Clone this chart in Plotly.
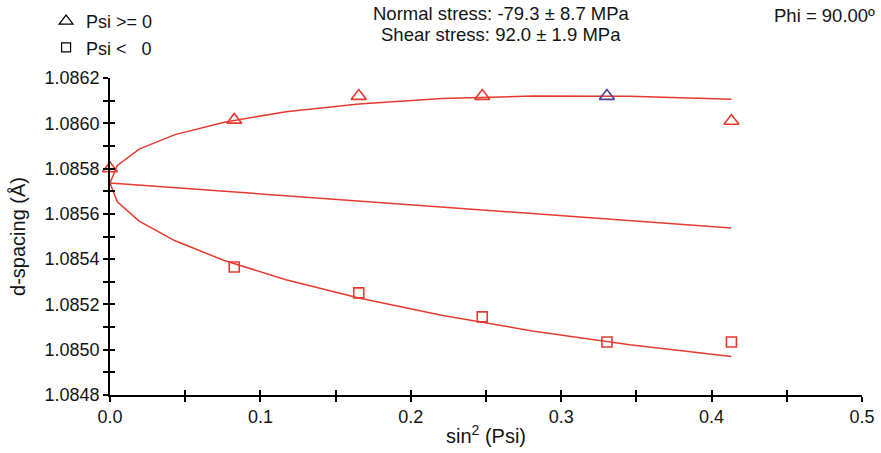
import plotly.graph_objects as go

# Measured points
psi_pos_x = [0.0, 0.0826, 0.1654, 0.2475, 0.3304, 0.4132]
psi_pos_y = [1.0858, 1.086015, 1.08612, 1.08612, 1.08612, 1.08601]
psi_pos_colors = ["#e53b2f", "#e53b2f", "#e53b2f", "#e53b2f", "#4b3f95", "#e53b2f"]

psi_neg_x = [0.0826, 0.1654, 0.2475, 0.3304, 0.4132]
psi_neg_y = [1.085365, 1.085251, 1.085145, 1.085034, 1.085034]

# Fit curves (vertices)
fit_x = [0.0, 0.00487, 0.01937, 0.04323, 0.07598, 0.11698, 0.16543, 0.22040, 0.28081, 0.34549, 0.41318]
fit_upper = [1.085736, 1.085814, 1.085886, 1.085950, 1.086005, 1.086051, 1.086085, 1.086109, 1.086120, 1.086119, 1.086106]
fit_lower = [1.085736, 1.085653, 1.085568, 1.085481, 1.085394, 1.085309, 1.085228, 1.085152, 1.085083, 1.085022, 1.084970]
center_x = [0.0, 0.41318]
center_y = [1.085736, 1.085538]

RED = "#e53b2f"
FONT = "Liberation Sans, Arial, Helvetica, sans-serif"
TXT = "#141414"

fig = go.Figure()
line_style = dict(color=RED, width=1.5)
fig.add_trace(go.Scatter(x=fit_x, y=fit_upper, mode="lines", line=line_style, showlegend=False))
fig.add_trace(go.Scatter(x=fit_x, y=fit_lower, mode="lines", line=line_style, showlegend=False))
fig.add_trace(go.Scatter(x=center_x, y=center_y, mode="lines", line=line_style, showlegend=False))

fig.add_trace(go.Scatter(x=psi_pos_x, y=psi_pos_y, mode="markers", showlegend=False, cliponaxis=False,
                         marker=dict(symbol="triangle-up-open", size=13, color=psi_pos_colors,
                                     line=dict(width=1.6, color=psi_pos_colors))))
fig.add_trace(go.Scatter(x=psi_neg_x, y=psi_neg_y, mode="markers", showlegend=False, cliponaxis=False,
                         marker=dict(symbol="square-open", size=10, color=RED,
                                     line=dict(width=1.6, color=RED))))

# legend entries (black outline symbols)
fig.add_trace(go.Scatter(x=[None], y=[None], mode="markers", name="Psi &gt;= 0",
                         marker=dict(symbol="triangle-up-open", size=12, color="black",
                                     line=dict(width=1.2, color="black"))))
fig.add_trace(go.Scatter(x=[None], y=[None], mode="markers", name="Psi &lt;&nbsp;&nbsp; 0",
                         marker=dict(symbol="square-open", size=9, color="black",
                                     line=dict(width=1.2, color="black"))))

# overlay axes for ticks crossing the axis line
fig.add_trace(go.Scatter(x=[None], y=[None], xaxis="x2", yaxis="y2", showlegend=False))

tick_common = dict(showgrid=False, zeroline=False, tickcolor="black", tickwidth=1.5, ticklen=5)

fig.update_layout(
    width=881, height=453,
    margin=dict(l=110, r=19, t=78, b=58, autoexpand=False),
    plot_bgcolor="white", paper_bgcolor="white",
    font=dict(family=FONT, size=18, color=TXT),
    xaxis=dict(range=[0, 0.5], dtick=0.1, tick0=0, tickformat=".1f", ticks="outside",
               showline=True, linecolor="black", linewidth=1.5, automargin=False,
               tickfont=dict(size=18),
               minor=dict(dtick=0.05, ticks="outside", ticklen=5, tickcolor="black", tickwidth=1.5),
               title=dict(text="sin<sup>2</sup> (Psi)", standoff=3, font=dict(size=20)),
               **tick_common),
    yaxis=dict(range=[1.0848, 1.0862], dtick=0.0002, tick0=1.0848, tickformat=".4f",
               ticks="outside", showline=True, linecolor="black", linewidth=1.5, automargin=False,
               tickfont=dict(size=18),
               minor=dict(dtick=0.0001, ticks="outside", ticklen=5, tickcolor="black", tickwidth=1.5),
               title=dict(text="d-spacing (Å)", standoff=14, font=dict(size=20)),
               **tick_common),
    xaxis2=dict(range=[0, 0.5], overlaying="x", dtick=0.05, tick0=0, ticks="inside",
                showticklabels=False, showline=False, anchor="y", **tick_common),
    yaxis2=dict(range=[1.0848, 1.0862], overlaying="y", dtick=0.0001, tick0=1.0848,
                ticks="inside", showticklabels=False, showline=False, anchor="x", **tick_common),
    legend=dict(x=-0.085, y=1.237, xanchor="left", yanchor="top", bgcolor="rgba(0,0,0,0)",
                font=dict(size=18, color=TXT), tracegroupgap=0, itemwidth=30),
    showlegend=True,
)

fig.add_annotation(xref="paper", yref="paper", x=0.52, y=1.2019, yanchor="middle",
                   text="Normal stress: -79.3 ± 8.7 MPa", showarrow=False, font=dict(size=18.5))
fig.add_annotation(xref="paper", yref="paper", x=0.52, y=1.1388, yanchor="middle",
                   text="Shear stress: 92.0 ± 1.9 MPa", showarrow=False, font=dict(size=18.5))
fig.add_annotation(xref="paper", yref="paper", x=1.02, y=1.1956, xanchor="right", yanchor="middle",
                   text="Phi = 90.00º", showarrow=False, font=dict(size=18.5))

fig.write_html("out.html", config={"displayModeBar": False},
               post_script="document.body.style.margin='0px';")
